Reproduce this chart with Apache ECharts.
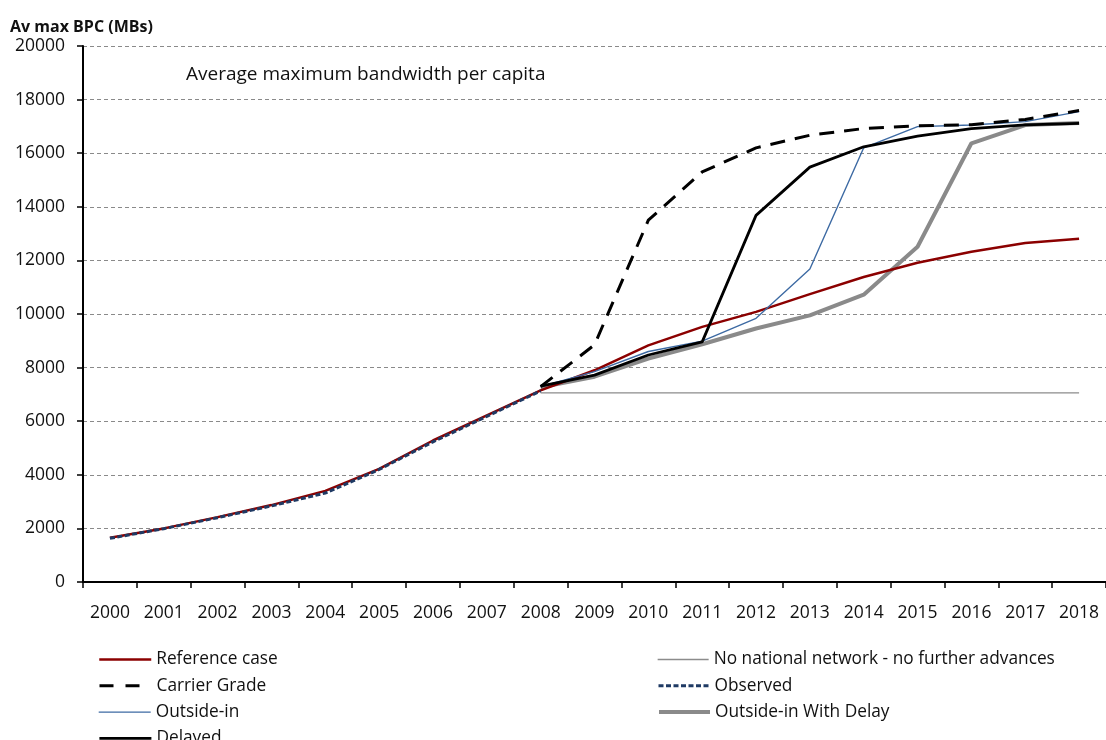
<!DOCTYPE html>
<html><head><meta charset="utf-8">
<script src="https://cdn.jsdelivr.net/npm/echarts@6/dist/echarts.min.js"></script>
<style>html,body{margin:0;padding:0;background:#fff}#c{width:1106px;height:740px}</style>
</head><body><div id="c"></div>
<script>
const years = ['2000','2001','2002','2003','2004','2005','2006','2007','2008','2009','2010','2011','2012','2013','2014','2015','2016','2017','2018'];
const referenceCase = [1650,2000,2420,2870,3400,4220,5280,6220,7150,7900,8830,9520,10080,10740,11380,11910,12320,12650,12810];
const noNational = [null,null,null,null,null,null,null,null,7060,7060,7060,7060,7060,7060,7060,7060,7060,7060,7060];
const carrierGrade = [null,null,null,null,null,null,null,null,7290,8850,13500,15300,16200,16670,16920,17020,17060,17260,17590];
const observed = [1630,1990,2400,2840,3320,4200,5230,6180,7130,null,null,null,null,null,null,null,null,null,null];
const outsideIn = [null,null,null,null,null,null,null,null,7290,7850,8600,8990,9840,11680,16200,16990,17050,17180,17550];
const outsideInDelay = [null,null,null,null,null,null,null,null,7270,7660,8340,8870,9460,9950,10720,12510,16370,17050,17130];
const delayed = [null,null,null,null,null,null,null,null,7310,7720,8470,8960,13680,15480,16240,16640,16920,17060,17110];
const legendLeft = ['Reference case','Carrier Grade','Outside-in','Delayed'];
const legendRight = ['No national network - no further advances','Observed','Outside-in With Delay'];

const FONT = 'Open Sans';
const STY = {
  'Reference case':{color:'#8b0000', width:2.5, type:'solid'},
  'No national network - no further advances':{color:'#8c8c8c', width:1.3, type:'solid'},
  'Carrier Grade':{color:'#000000', width:3, type:[15,10]},
  'Observed':{color:'#1f3a64', width:3, type:[5,2.5]},
  'Outside-in':{color:'#3d6aa3', width:1.4, type:'solid'},
  'Outside-in With Delay':{color:'#8a8a8a', width:4, type:'solid'},
  'Delayed':{color:'#000000', width:2.8, type:'solid'}
};
const chart = echarts.init(document.getElementById('c'), null, {renderer:'canvas'});
const mk = (name, data, z) => ({
  name, type:'line', data, symbol:'none', showSymbol:false, connectNulls:false, z,
  lineStyle:STY[name], itemStyle:{color:STY[name].color}, emphasis:{disabled:true}
});
const legends = [];
const addLegend = (names, left, width) => names.forEach((n, i) => legends.push({
  data:[n], left, top:651 + i*26.3 - 5, itemWidth:width, itemHeight:10, itemGap:0, padding:5,
  itemStyle:{opacity:0}, lineStyle:Object.assign({}, STY[n], {type: n === 'Carrier Grade' ? [14,12] : STY[n].type}),
  selectedMode:false,
  textStyle:{fontFamily:FONT, fontSize:17.3, color:'#111', padding:[0,0,0,0]}
}));
addLegend(legendLeft, 93, 52);
addLegend(legendRight, 652, 51);

chart.setOption({
  animation:false,
  textStyle:{fontFamily:FONT},
  title:{text:'Average maximum bandwidth per capita', left:181, top:60,
    textStyle:{fontFamily:FONT, fontSize:19, fontWeight:'normal', color:'#111'}},
  grid:{left:83, right:-1, top:46, bottom:158, containLabel:false},
  xAxis:{type:'category', data:years, boundaryGap:true,
    axisLine:{lineStyle:{color:'#000', width:2}},
    axisTick:{show:true, alignWithLabel:false, length:6, lineStyle:{color:'#000', width:1.5}},
    axisLabel:{fontFamily:FONT, fontSize:17.5, color:'#111', margin:22}},
  yAxis:{type:'value', min:0, max:20000, interval:2000,
    name:'Av max BPC (MBs)', nameLocation:'end', nameGap:11,
    nameTextStyle:{fontFamily:FONT, fontSize:16, fontWeight:'bold', color:'#111', align:'left', padding:[0,0,0,-73]},
    axisLine:{show:true, lineStyle:{color:'#000', width:2}},
    axisTick:{show:true, length:6, lineStyle:{color:'#000', width:1.5}},
    axisLabel:{fontFamily:FONT, fontSize:17.5, color:'#111', margin:18, formatter:v => String(v)},
    splitLine:{show:true, lineStyle:{color:'#8a8a8a', type:[4,3], width:1}}},
  legend:legends,
  series:[
    mk('No national network - no further advances', noNational, 2),
    mk('Outside-in With Delay', outsideInDelay, 3),
    mk('Reference case', referenceCase, 4),
    mk('Outside-in', outsideIn, 5),
    mk('Delayed', delayed, 6),
    mk('Carrier Grade', carrierGrade, 7),
    mk('Observed', observed, 8)
  ]
});
</script></body></html>
